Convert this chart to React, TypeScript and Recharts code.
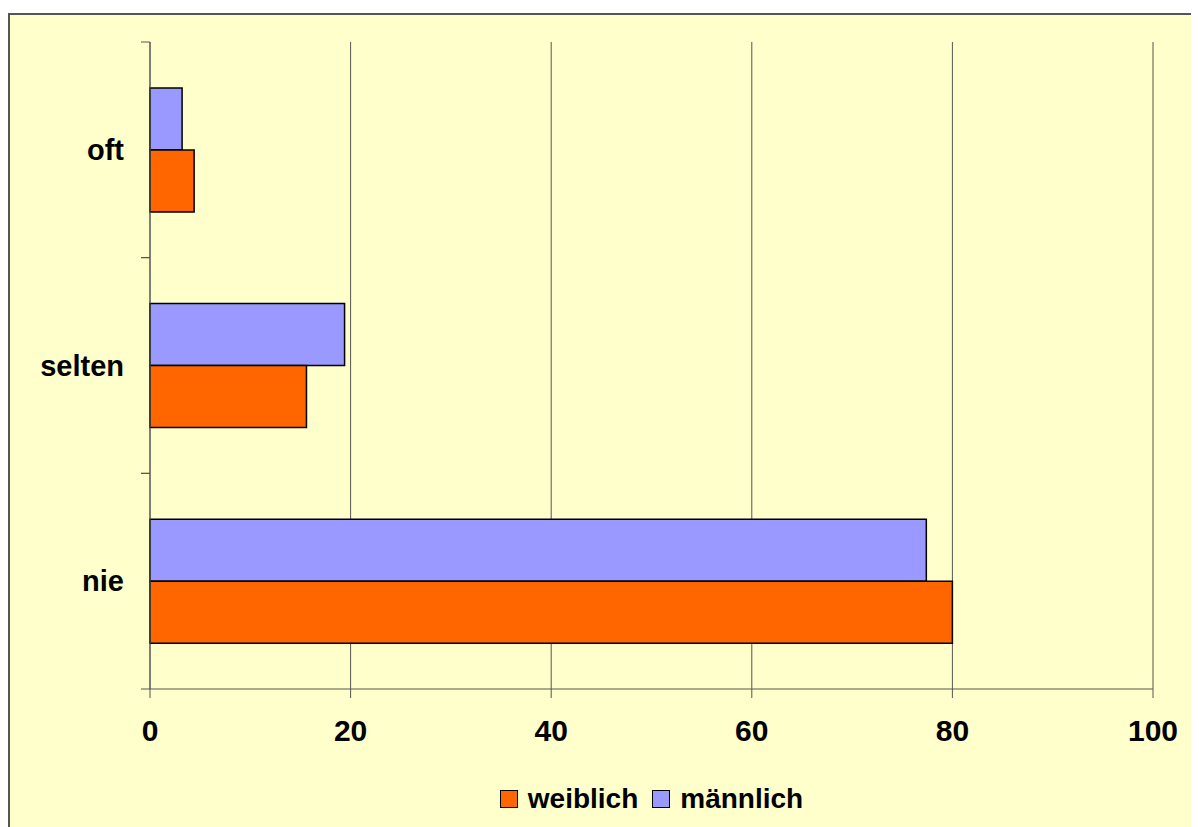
import { BarChart, Bar, XAxis, YAxis, CartesianGrid, Legend } from "recharts";

const categories = ["oft", "selten", "nie"];
const maennlich = [3.2, 19.4, 77.4];
const weiblich = [4.4, 15.6, 80.0];
const xTicks = [0, 20, 40, 60, 80, 100];

const data = categories.map((name, i) => ({
	name,
	männlich: maennlich[i],
	weiblich: weiblich[i],
}));

const font = "'Liberation Sans', Arial, sans-serif";
const orange = "#FF6600";
const blue = "#9999FF";
const axisColor = "#555";

function CategoryTick(props: any) {
	const { x, y, payload } = props;
	const off = payload.offset || 0;
	return (
		<g>
			<line x1={x + 17} x2={x + 26} y1={y - off} y2={y - off} stroke={axisColor} />
			<line x1={x + 17} x2={x + 26} y1={y + off} y2={y + off} stroke={axisColor} />
			<text
				x={x}
				y={y}
				dy='0.355em'
				textAnchor='end'
				fontFamily={font}
				fontWeight='bold'
				fontSize={29}
				fill='#000'>
				{payload.value}
			</text>
		</g>
	);
}

function LegendBox() {
	const item = (color: string, label: string, gap: number) => (
		<span style={{ display: "inline-flex", alignItems: "center", marginRight: gap }}>
			<span
				style={{
					display: "inline-block",
					width: 16,
					height: 16,
					background: color,
					border: "1px solid #000",
					marginRight: 10,
				}}
			/>
			<span>{label}</span>
		</span>
	);
	return (
		<div
			style={{
				height: 40,
				display: "flex",
				alignItems: "center",
				justifyContent: "center",
				fontFamily: font,
				fontWeight: "bold",
				fontSize: 28,
				color: "#000",
			}}>
			{item(orange, "weiblich", 14)}
			{item(blue, "männlich", 0)}
		</div>
	);
}

export default function App() {
	return (
		<div
			style={{
				marginTop: 5,
				width: 1240,
				height: 820,
				background: "#FFFFCC",
				borderTop: "2px solid #555",
				borderLeft: "2px solid #555",
			}}>
			<style>{`html,body{overflow:hidden}`}</style>
			<BarChart
				width={1200}
				height={820}
				data={data}
				layout='vertical'
				barCategoryGap='21.3%'
				barGap={0}
				margin={{ top: 27, right: 57, left: 0, bottom: 16 }}>
				<CartesianGrid horizontal={false} stroke={axisColor} />
				<XAxis
					type='number'
					domain={[0, 100]}
					ticks={xTicks}
					height={90}
					tickSize={9}
					tickMargin={22}
					stroke={axisColor}
					tick={{ fill: "#000", fontSize: 30, fontWeight: "bold", fontFamily: font }}
				/>
				<YAxis
					type='category'
					dataKey='name'
					width={140}
					tickSize={9}
					tickMargin={17}
					tickLine={false}
					stroke={axisColor}
					tick={<CategoryTick />}
				/>
				<Legend
					content={<LegendBox />}
					verticalAlign='bottom'
					wrapperStyle={{ left: 140, width: 1003, height: 40 }}
				/>
				<Bar
					dataKey='männlich'
					fill={blue}
					stroke='#000'
					strokeWidth={1.5}
					isAnimationActive={false}
				/>
				<Bar
					dataKey='weiblich'
					fill={orange}
					stroke='#000'
					strokeWidth={1.5}
					isAnimationActive={false}
				/>
			</BarChart>
		</div>
	);
}
